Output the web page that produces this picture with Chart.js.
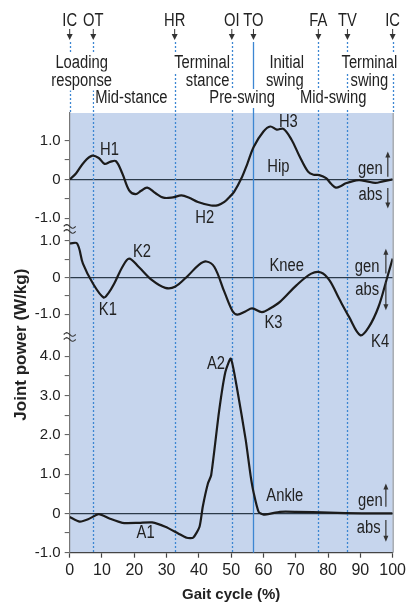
<!DOCTYPE html>
<html><head><meta charset="utf-8">
<script src="https://cdn.jsdelivr.net/npm/chart.js@4.4.1/dist/chart.umd.min.js"></script>
<style>html,body{margin:0;padding:0;background:#fff}</style>
</head><body>
<canvas id="c" width="409" height="608"></canvas>
<script>
// ---------- data ----------
const hipPct   = [0,2,4.5,7,9,10.8,12.5,14.3,16.3,18.4,20.4,22,24,26.5,29,32,34.6,37,39.7,43.8,46,47.9,49.5,50.9,53.4,55,57,60,62.1,64.1,66.2,68.7,71.2,73.8,75.5,77.3,79.4,81,82.4,84,85.5,89.5,92,94.6,97,100];
const hipPower = [0,0.16,0.45,0.61,0.55,0.40,0.45,0.47,0.15,-0.28,-0.38,-0.30,-0.21,-0.35,-0.47,-0.46,-0.41,-0.47,-0.58,-0.67,-0.66,-0.58,-0.45,-0.32,0.07,0.40,0.84,1.23,1.36,1.28,1.30,1.02,0.59,0.20,0.12,0.11,0.03,-0.12,-0.21,-0.17,-0.10,-0.02,-0.05,-0.09,-0.05,0];
const kneePct   = [0,2.3,4.1,7.2,10.5,12,13.8,16.3,18.4,21.4,25.5,29.6,32.6,36.7,40,42.3,44.8,47.9,50.4,51.9,54.4,56.5,59.5,62,65.1,70.2,74.8,77.8,80.4,83.4,86.5,90,92.6,95.6,98.2,100];
const kneePower = [0.93,0.93,0.38,-0.16,-0.54,-0.42,-0.16,0.29,0.52,0.29,-0.07,-0.28,-0.25,0.06,0.35,0.44,0.29,-0.39,-0.91,-1.01,-0.92,-0.84,-0.94,-0.84,-0.66,-0.21,0.11,0.14,-0.07,-0.57,-1.07,-1.57,-1.35,-0.80,-0.03,0.52];
const anklePct   = [0,3.1,5.7,9,12.3,16.3,21.4,25.5,29.6,33.6,36.2,38.2,40.2,41.2,42.8,43.8,46.3,48.2,49.9,51.9,54.5,56,57,58.5,60,65.1,70.2,80.4,90.5,100];
const anklePower = [-0.09,-0.21,-0.15,-0.02,-0.13,-0.24,-0.24,-0.23,-0.34,-0.51,-0.62,-0.62,-0.34,0.17,0.76,0.97,2.63,3.60,3.94,3.14,1.87,0.97,0.51,0.04,-0.03,0.04,0.04,0.02,0,0];

const xTicks = [0,10,20,30,40,50,60,70,80,90,100];
const hipTicks   = [1.0,0.5,0,-0.5,-1.0];
const kneeTicks  = [1.0,0.5,0,-0.5,-1.0];
const ankleTicks = [4.0,3.5,3.0,2.5,2.0,1.5,1.0,0.5,0,-0.5,-1.0];

const eventNames = ['IC','OT','HR','OI','TO','FA','TV','IC'];
const eventPct   = [0,7.3,32.5,50.2,56.9,77,86,100];

const phaseLines = [
  {text:'Loading',  pct:3.7,  row:0}, {text:'response', pct:3.7,  row:1},
  {text:'Mid-stance', pct:19.1, row:2},
  {text:'Terminal', pct:41.0, row:0}, {text:'stance', pct:42.7, row:1},
  {text:'Pre-swing', pct:53.4, row:2},
  {text:'Initial', pct:67.2, row:0}, {text:'swing', pct:66.6, row:1},
  {text:'Mid-swing', pct:81.6, row:2},
  {text:'Terminal', pct:92.8, row:0}, {text:'swing', pct:92.8, row:1}
];

// panel placement on the shared vertical axis (offset, scale)
const PANEL = { hip:{off:8.5, k:0.99}, knee:{off:6.0, k:0.934}, ankle:{off:0, k:1} };
const toY = (p, v) => PANEL[p].off + v * PANEL[p].k;

const labelsAnno = [
  {p:'hip', x:12.3, v:0.76, t:'H1'}, {p:'hip', x:41.8, v:-1.0, t:'H2'}, {p:'hip', x:67.7, v:1.48, t:'H3'},
  {p:'hip', x:64.6, v:0.33, t:'Hip'}, {p:'hip', x:93.1, v:0.26, t:'gen'}, {p:'hip', x:93.1, v:-0.40, t:'abs'},
  {p:'knee', x:11.8, v:-0.89, t:'K1'}, {p:'knee', x:22.4, v:0.70, t:'K2'}, {p:'knee', x:67.2, v:0.31, t:'Knee'},
  {p:'knee', x:63.1, v:-1.25, t:'K3'}, {p:'knee', x:96.1, v:-1.75, t:'K4'}, {p:'knee', x:92.1, v:0.29, t:'gen'}, {p:'knee', x:92.1, v:-0.33, t:'abs'},
  {p:'ankle', x:45.3, v:3.80, t:'A2'}, {p:'ankle', x:23.5, v:-0.51, t:'A1'}, {p:'ankle', x:66.6, v:0.44, t:'Ankle'},
  {p:'ankle', x:93.1, v:0.31, t:'gen'}, {p:'ankle', x:92.6, v:-0.36, t:'abs'}
];
const arrowsAnno = [
  {p:'hip', x:98.5, up:[0.07,0.72], dn:[-0.22,-0.75]},
  {p:'knee', x:97.9, up:[0.11,0.79], dn:[-0.12,-0.89]},
  {p:'ankle', x:97.9, up:[0.17,0.76], dn:[-0.17,-0.72]}
];
const BREAKS = [7.24, 4.49];

// ---------- ticks ----------
const fmt = v => (v % 1 === 0) ? (v === 0 ? '0' : v.toFixed(1)) : '';
const yTickList = [];
hipTicks.forEach(v => yTickList.push({value: toY('hip', v), label: fmt(v)}));
kneeTicks.forEach(v => yTickList.push({value: toY('knee', v), label: fmt(v)}));
ankleTicks.forEach(v => yTickList.push({value: toY('ankle', v), label: fmt(v)}));
const zeroValues = [toY('hip',0), toY('knee',0), toY('ankle',0)];

const FONT = '"Liberation Sans", Arial, sans-serif';
Chart.defaults.font.family = FONT;
Chart.defaults.color = '#2a2a2a';

const mk = (p, xs, ys) => xs.map((x, i) => ({x, y: toY(p, ys[i])}));

const BLUE_FILL = '#c6d5ed';
const EVENT_BLUE = '#3c86d2';
const NARROW = 0.82;

function narrowText(ctx, text, x, y, size) {
  ctx.save();
  ctx.font = size + 'px ' + FONT;
  ctx.translate(x, y);
  ctx.scale(NARROW, 1);
  ctx.fillText(text, 0, 0);
  ctx.restore();
}
function narrowWidth(ctx, text, size) {
  ctx.save();
  ctx.font = size + 'px ' + FONT;
  const w = ctx.measureText(text).width * NARROW;
  ctx.restore();
  return w;
}

const bgPlugin = {
  id: 'bg',
  beforeDraw(chart) {
    const {ctx, chartArea: a} = chart;
    ctx.save();
    ctx.fillStyle = BLUE_FILL;
    ctx.fillRect(a.left, a.top, a.right - a.left, a.bottom - a.top);
    ctx.restore();
  },
  beforeDatasetsDraw(chart) {
    const {ctx, chartArea: a, scales: {x}} = chart;
    ctx.save();
    eventPct.forEach((p, i) => {
      const px = Math.round(x.getPixelForValue(p)) + 0.5;
      const name = eventNames[i];
      ctx.beginPath();
      if (name === 'TO') { ctx.setLineDash([]); ctx.strokeStyle = EVENT_BLUE; ctx.lineWidth = 1.3; }
      else { ctx.setLineDash([2, 2]); ctx.strokeStyle = EVENT_BLUE; ctx.lineWidth = 1.3; }
      const bottom = (name === 'IC') ? a.top : a.bottom;
      ctx.moveTo(px, 42);
      ctx.lineTo(px, bottom);
      ctx.stroke();
    });
    ctx.setLineDash([]);
    ctx.strokeStyle = '#8d939b';
    ctx.lineWidth = 1.2;
    ctx.beginPath();
    ctx.moveTo(a.right + 0.5, a.top);
    ctx.lineTo(a.right + 0.5, a.bottom);
    ctx.stroke();
    ctx.restore();
  },
  afterDraw(chart) {
    const {ctx, chartArea: a, scales: {x, y}} = chart;
    ctx.save();
    ctx.fillStyle = '#222';
    ctx.textAlign = 'center';
    ctx.textBaseline = 'alphabetic';
    eventPct.forEach((p, i) => {
      const px = x.getPixelForValue(p);
      ctx.fillStyle = '#222';
      narrowText(ctx, eventNames[i], px, 25.5, 18);
      ctx.strokeStyle = '#333'; ctx.lineWidth = 1;
      ctx.beginPath(); ctx.moveTo(px, 29); ctx.lineTo(px, 37); ctx.stroke();
      ctx.beginPath(); ctx.moveTo(px - 3, 34); ctx.lineTo(px + 3, 34); ctx.lineTo(px, 40); ctx.closePath();
      ctx.fillStyle = '#333'; ctx.fill();
    });
    const rowBase = [68, 85.5, 103];
    phaseLines.forEach(l => {
      const px = x.getPixelForValue(l.pct);
      const w = narrowWidth(ctx, l.text, 18);
      ctx.fillStyle = '#fff';
      ctx.fillRect(px - w / 2 - 1, rowBase[l.row] - 14, w + 2, 19);
      ctx.fillStyle = '#222';
      narrowText(ctx, l.text, px, rowBase[l.row], 18);
    });
    ctx.textBaseline = 'middle';
    labelsAnno.forEach(l => {
      narrowText(ctx, l.t, x.getPixelForValue(l.x), y.getPixelForValue(toY(l.p, l.v)), 18);
    });
    ctx.strokeStyle = '#333'; ctx.fillStyle = '#333'; ctx.lineWidth = 1.2;
    arrowsAnno.forEach(r => {
      const px = x.getPixelForValue(r.x);
      const u0 = y.getPixelForValue(toY(r.p, r.up[0])), u1 = y.getPixelForValue(toY(r.p, r.up[1]));
      const d0 = y.getPixelForValue(toY(r.p, r.dn[0])), d1 = y.getPixelForValue(toY(r.p, r.dn[1]));
      ctx.beginPath(); ctx.moveTo(px, u0); ctx.lineTo(px, u1 + 4); ctx.stroke();
      ctx.beginPath(); ctx.moveTo(px - 2.5, u1 + 6); ctx.lineTo(px + 2.5, u1 + 6); ctx.lineTo(px, u1); ctx.closePath(); ctx.fill();
      ctx.beginPath(); ctx.moveTo(px, d0); ctx.lineTo(px, d1 - 4); ctx.stroke();
      ctx.beginPath(); ctx.moveTo(px - 2.5, d1 - 6); ctx.lineTo(px + 2.5, d1 - 6); ctx.lineTo(px, d1); ctx.closePath(); ctx.fill();
    });
    BREAKS.forEach(b => {
      const py = y.getPixelForValue(b);
      const lx = a.left;
      ctx.fillStyle = '#fff';
      ctx.fillRect(lx - 6, py - 3, 5, 6);
      ctx.strokeStyle = '#333'; ctx.lineWidth = 1.1;
      [-2.5, 2.5].forEach(dy => {
        ctx.beginPath();
        for (let t = 0; t <= 12; t++) {
          const xx = lx - 6 + t;
          const yy = py + dy - 1.8 * Math.sin(t / 12 * Math.PI * 2);
          if (t === 0) ctx.moveTo(xx, yy); else ctx.lineTo(xx, yy);
        }
        ctx.stroke();
      });
    });
    ctx.restore();
  }
};

new Chart(document.getElementById('c'), {
  type: 'line',
  data: {
    datasets: [
      {label: 'Hip', data: mk('hip', hipPct, hipPower), tension: 0.35},
      {label: 'Knee', data: mk('knee', kneePct, kneePower), tension: 0.35},
      {label: 'Ankle', data: mk('ankle', anklePct, anklePower), tension: 0.2}
    ].map(d => Object.assign(d, {borderColor: '#1b1b1b', borderWidth: 2.2, pointRadius: 0, fill: false}))
  },
  options: {
    responsive: false,
    animation: false,
    devicePixelRatio: 1,
    layout: {padding: {top: 113, right: 11.3, left: 0, bottom: 0}},
    plugins: {legend: {display: false}, tooltip: {enabled: false}},
    scales: {
      x: {
        type: 'linear', min: 0, max: 100,
        afterBuildTicks: s => { s.ticks = xTicks.map(v => ({value: v})); },
        afterFit: s => { s.height = 55.3; },
        ticks: {font: {size: 16}, color: '#222', padding: 3, autoSkip: false, maxRotation: 0},
        grid: {drawOnChartArea: false, tickLength: 5, tickColor: '#444', tickWidth: 1.2},
        border: {color: '#444', width: 1.3},
        title: {display: true, text: 'Gait cycle (%)', font: {size: 15, weight: 'bold'}, color: '#222', padding: {top: 0, bottom: 4}}
      },
      y: {
        type: 'linear', min: -1.0, max: 10.19,
        afterBuildTicks: s => { s.ticks = yTickList.map(t => ({value: t.value})); },
        afterFit: s => { s.width = 69.7; },
        ticks: {
          font: {size: 15}, color: '#222', padding: 4, autoSkip: false,
          callback: (val, i) => yTickList[i] ? yTickList[i].label : ''
        },
        grid: {
          drawOnChartArea: true, tickLength: 5, tickColor: '#555', tickWidth: 1,
          color: c => (c.tick && zeroValues.some(z => Math.abs(z - c.tick.value) < 1e-6)) ? '#2b3a4a' : 'transparent',
          lineWidth: 1.2
        },
        border: {color: '#777', width: 1.2},
        title: {display: true, text: 'Joint power (W/kg)\u00a0\u00a0\u00a0\u00a0\u00a0', font: {size: 17, weight: 'bold'}, color: '#222', padding: {top: 11, bottom: 0}}
      }
    }
  },
  plugins: [bgPlugin]
});
</script>
</body></html>
